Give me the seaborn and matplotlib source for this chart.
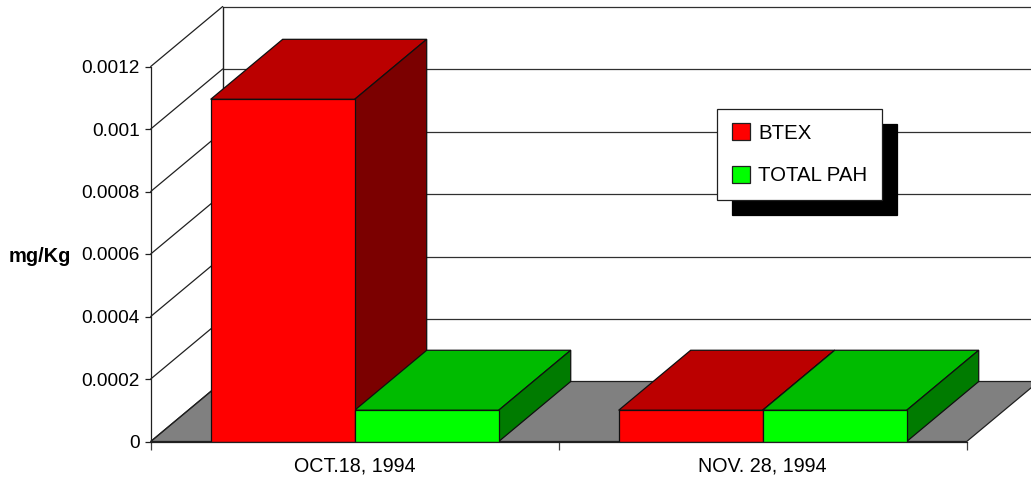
import matplotlib
matplotlib.use("Agg")
import matplotlib.pyplot as plt
from matplotlib.patches import Polygon, Patch
import pandas as pd
import seaborn as sns

dates = ["OCT.18, 1994", "NOV. 28, 1994"]
btex = [0.001095, 0.0001]
total_pah = [0.0001, 0.0001]
y_ticks = [0, 0.0002, 0.0004, 0.0006, 0.0008, 0.001, 0.0012]
y_labels = ["0", "0.0002", "0.0004", "0.0006", "0.0008", "0.001", "0.0012"]

sns.set_theme(style="white")
plt.rcParams["font.family"] = ["Liberation Sans", "DejaVu Sans"]

W, H = 1031, 480
fig = plt.figure(figsize=(W / 100, H / 100), dpi=100)
# pixel box of the front plane of the chart
ax = fig.add_axes([150.7 / W, (H - 441.5) / H, 816 / W, 375 / H])

df = pd.DataFrame({
    "date": dates * 2,
    "series": ["BTEX"] * 2 + ["TOTAL PAH"] * 2,
    "value": btex + total_pah,
})
front = {"BTEX": "#ff0000", "TOTAL PAH": "#00ff00"}
top_col = {"BTEX": "#bb0000", "TOTAL PAH": "#00bb00"}
side_col = {"BTEX": "#7b0000", "TOTAL PAH": "#007b00"}

sns.barplot(data=df, x="date", y="value", hue="series", palette=front, width=0.706,
            gap=0, saturation=1, edgecolor="#101010", linewidth=0.9, legend=False, ax=ax, zorder=5)
ax.set_xlim(-0.5, 1.5)
ax.set_ylim(0, 0.0012)

# depth of the fake 3D box, 72 px right and 60 px up
dx = 72 / 408
dy = 60 / 375 * 0.0012

# floor
ax.add_patch(Polygon([(-0.5, 0), (1.5, 0), (1.5 + dx, dy), (-0.5 + dx, dy)], closed=True,
                     fc="#808080", ec="#202020", lw=0.9, clip_on=False, zorder=1))
# back wall and side wall lines
for t in y_ticks:
    ax.plot([-0.5, -0.5 + dx], [t, t + dy], color="#202020", lw=0.9, clip_on=False, zorder=2)
    if t > 0:
        ax.plot([-0.5 + dx, 1.5 + dx], [t + dy, t + dy], color="#303030", lw=0.9, clip_on=False, zorder=2)
ax.plot([-0.5 + dx, -0.5 + dx], [dy, 0.0012 + dy], color="#202020", lw=1, clip_on=False, zorder=2)

# top and side faces for each bar, built from the bars seaborn drew
names = ["BTEX"] * 2 + ["TOTAL PAH"] * 2
for bar, name in zip(ax.patches[:4], names):
    x0, x1 = bar.get_x(), bar.get_x() + bar.get_width()
    h = bar.get_height()
    ax.add_patch(Polygon([(x0, h), (x1, h), (x1 + dx, h + dy), (x0 + dx, h + dy)], closed=True,
                         fc=top_col[name], ec="#101010", lw=0.9, clip_on=False, zorder=4))
    ax.add_patch(Polygon([(x1, 0), (x1, h), (x1 + dx, h + dy), (x1 + dx, dy)], closed=True,
                         fc=side_col[name], ec="#101010", lw=0.9, clip_on=False, zorder=4))

sns.despine(ax=ax, top=True, right=True)
for s in ["left", "bottom"]:
    ax.spines[s].set_color("#202020")
    ax.spines[s].set_linewidth(0.9)
    ax.spines[s].set_zorder(6)

ax.set_yticks(y_ticks, y_labels)
ax.set_xticks([-0.5, 0.5, 1.5], minor=False)
ax.set_xticklabels(["", "", ""])
ax.tick_params(axis="y", left=True, length=4.5, width=0.9, color="#202020", labelsize=13.7, pad=3.5, labelcolor="black")
ax.tick_params(axis="x", bottom=True, length=5.5, width=0.9, color="#404040")
for x, lab in zip([0, 1], dates):
    ax.annotate(lab, (x, 0), xytext=(0, -10.5), textcoords="offset points", ha="center", va="top",
                fontsize=14.2, color="black", annotation_clip=False)
ax.set_xlabel("")
ax.set_ylabel("")
fig.text(40 / W, (H - 256) / H, "mg/Kg", ha="center", va="center", fontsize=14.4, fontweight="bold", color="black")
ax.patch.set_visible(False)

leg = ax.legend(
    handles=[Patch(fc=front[k], ec="#202020", lw=0.9, label=k) for k in front],
    loc="upper left", bbox_to_anchor=(717 / W, (H - 108.5) / H), bbox_transform=fig.transFigure,
    fontsize=14.7, frameon=True, fancybox=False, framealpha=1, edgecolor="#202020",
    handlelength=0.88, handleheight=0.88, handletextpad=0.42, labelspacing=1.15, borderpad=0.72, borderaxespad=0,
    shadow={"ox": 10.8, "oy": -10.8, "fc": "black", "ec": "black", "alpha": 1},
)
leg.set_zorder(10)
leg.get_frame().set_linewidth(0.9)
for t in leg.get_texts():
    t.set_color("black")

fig.savefig("out.png", dpi=100)
